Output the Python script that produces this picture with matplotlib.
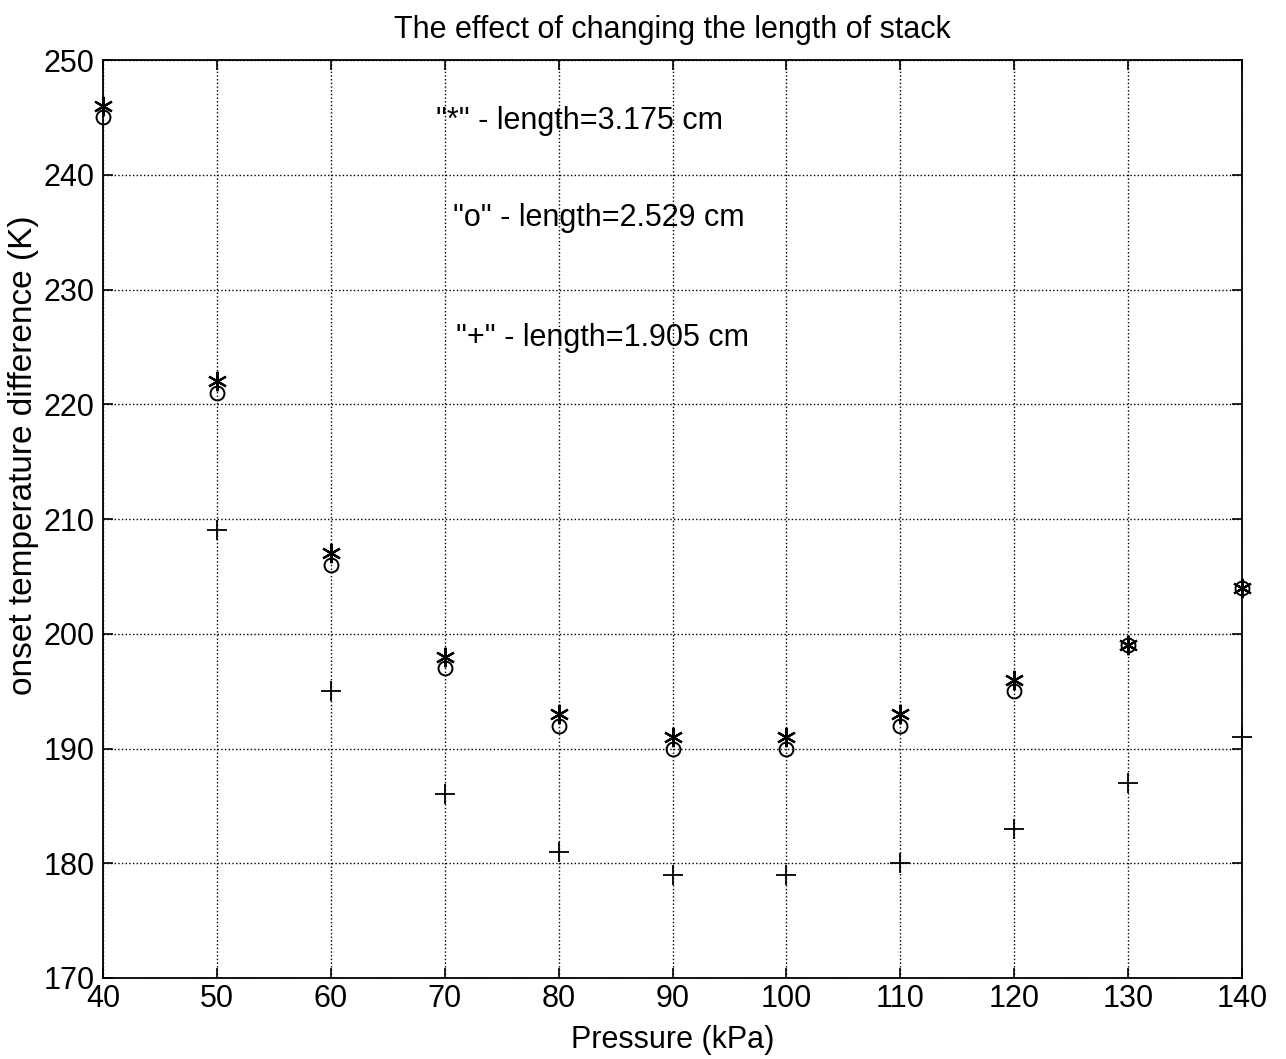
import matplotlib
matplotlib.use("Agg")
import matplotlib.pyplot as plt

plt.rcParams['font.family'] = ['Liberation Sans', 'DejaVu Sans']

pressure = [40, 50, 60, 70, 80, 90, 100, 110, 120, 130, 140]
star_vals = [246, 222, 207, 198, 193, 191, 191, 193, 196, 199, 204]
circle_vals = [245, 221, 206, 197, 192, 190, 190, 192, 195, 199, 204]
plus_pressure = [50, 60, 70, 80, 90, 100, 110, 120, 130, 140]
plus_vals = [209, 195, 186, 181, 179, 179, 180, 183, 187, 191]

xticks = [40, 50, 60, 70, 80, 90, 100, 110, 120, 130, 140]
yticks = [170, 180, 190, 200, 210, 220, 230, 240, 250]

fig = plt.figure(figsize=(12.86, 10.59), dpi=100)
ax = fig.add_axes([0.0801, 0.0765, 0.8857, 0.8668])

ax.plot(pressure, star_vals, linestyle='none', marker=(6, 2, 0), markersize=14,
        markeredgecolor='black', markeredgewidth=1.6, color='black', clip_on=False)
ax.plot(pressure, circle_vals, linestyle='none', marker='o', markersize=10,
        markerfacecolor='none', markeredgecolor='black', markeredgewidth=1.4, clip_on=False)
ax.plot(plus_pressure, plus_vals, linestyle='none', marker='+', markersize=14,
        markeredgecolor='black', markeredgewidth=1.3, clip_on=False)

ax.set_xlim(40, 140)
ax.set_ylim(170, 250)
ax.set_xticks(xticks)
ax.set_yticks(yticks)
ax.tick_params(direction='in', top=True, right=True, labelsize=22, length=7, width=1.2, pad=4)
ax.tick_params(axis='y', pad=6)
ax.grid(True, linestyle=':', color='black', linewidth=1.0)
for s in ax.spines.values():
    s.set_linewidth(1.3)

ax.set_title('The effect of changing the length of stack', fontsize=22, pad=16)
ax.set_xlabel('Pressure (kPa)', fontsize=22, labelpad=8)
ax.set_ylabel('onset temperature difference (K)', fontsize=24)
ax.yaxis.set_label_coords(-0.056, 0.57)

ax.text(69.2, 244.7, '"*" - length=3.175 cm', fontsize=22, ha='left', va='center')
ax.text(70.7, 236.2, '"o" - length=2.529 cm', fontsize=22, ha='left', va='center')
ax.text(71.0, 225.8, '"+" - length=1.905 cm', fontsize=22, ha='left', va='center')

fig.savefig('out.png', dpi=100)
